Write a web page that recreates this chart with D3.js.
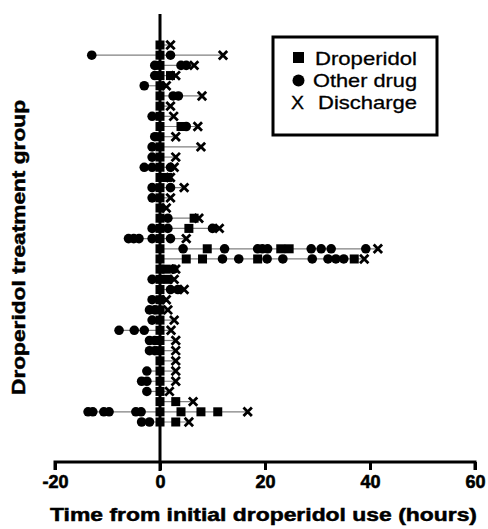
<!DOCTYPE html>
<html>
<head>
<meta charset="utf-8">
<script src="https://cdn.jsdelivr.net/npm/d3@7"></script>
<style>
  body { margin: 0; background: #fff; }
  text { font-family: Arial, "Liberation Sans", sans-serif; }
  .tick text { font-size: 18px; font-weight: bold; }
</style>
</head>
<body>
<script>
// one entry per patient row, top to bottom (hours from first droperidol dose)
var droperidolTimes = [
  [0], [0], [0], [0, 2], [0], [0], [0], [0], [0, 4], [0],
  [0], [0], [0], [0, 1.5], [0], [0], [0], [0, 6.5], [0, 5.5], [0],
  [0, 9, 23, 24.6], [0, 5, 8.1, 18.6, 37], [0, 1.2], [0, 1.5], [0], [0], [0], [0], [0], [0],
  [0], [0], [0], [0], [0], [0, 3], [0, 4, 7.8, 11], [0, 3]
];
var otherDrugTimes = [
  [], [-13, 2], [-1, 4, 5], [-1], [-3], [2.5, 3.5], [], [-1.5], [5], [-1],
  [-1.5], [-1.5], [-3, -1.5, 2], [], [-1.5, 2], [-1.5], [], [1.5], [-1.5, 1.5, 10], [-6, -5, -4, -1.5, 2],
  [4.4, 12.3, 18.6, 19.5, 20.5, 28.8, 30.7, 32.6, 39.2], [11.9, 15, 20.4, 23.4, 29, 32, 33.5, 35], [2.6], [-1.5], [2, 3.4], [-1.5], [-2, -1], [-1.5], [-7.8, -4.9, -3], [-2, -1],
  [-2, -1], [], [-2.5], [-3.5, -2.5], [-2.5], [], [-13.7, -12.8, -10.7, -9.7, -4.6, -3.6], [-3.5, -2]
];
var dischargeTimes = [
  2, 12, 6.5, 3, 1.2, 8, 2, 2.6, 7.2, 3,
  7.8, 3, 2.7, 2, 4.6, 2, 1.2, 7.4, 11.3, 5,
  41.5, 38.9, 3, 2.7, 4.6, 1.2, 1.5, 2.7, 2.1, 3,
  3, 3, 3, 3, 1.8, 6.3, 16.7, 5.5
];
var xTicks = [-20, 0, 20, 40, 60];
var legendLabels = ["Droperidol", "Other drug", "Discharge"];

var rows = dischargeTimes.map(function(d, i) {
  var all = droperidolTimes[i].concat(otherDrugTimes[i]).concat([d]);
  return { i: i, min: d3.min(all), max: d3.max(all) };
});

var svg = d3.select("body").append("svg")
  .attr("width", 488)
  .attr("height", 529);

var x = d3.scaleLinear().domain([-20, 60]).range([55, 475]);
var y = d3.scaleLinear().domain([0, rows.length - 1]).range([45, 422]);

// row lines
svg.selectAll("line.row")
  .data(rows)
  .enter()
  .append("line")
  .attr("class", "row")
  .attr("x1", function(d) { return x(d.min); })
  .attr("x2", function(d) { return x(d.max); })
  .attr("y1", function(d) { return y(d.i); })
  .attr("y2", function(d) { return y(d.i); })
  .attr("stroke", "#808080")
  .attr("stroke-width", 1.2);

// x axis
var xAxis = d3.axisBottom(x).tickValues(xTicks).tickSize(8).tickPadding(5)
  .tickFormat(function(d) { return String(d); });
var gx = svg.append("g")
  .attr("transform", "translate(0,462)")
  .call(xAxis)
  .attr("font-size", 18)
  .attr("font-weight", "bold")
  .attr("font-family", "Arial, 'Liberation Sans', sans-serif");
gx.select(".domain").attr("stroke", "#000").attr("stroke-width", 3)
  .attr("d", "M" + x(-20) + ",8V0H" + x(60) + "V8");
gx.selectAll(".tick line").attr("stroke-width", 3);
gx.selectAll(".tick text")
  .attr("fill", "#000")
  .attr("stroke", "#000")
  .attr("stroke-width", 0.6);

// vertical axis at zero
svg.append("line")
  .attr("x1", x(0)).attr("x2", x(0))
  .attr("y1", 14).attr("y2", 471)
  .attr("stroke", "#000")
  .attr("stroke-width", 3);

// markers
var pts = [];
rows.forEach(function(r) {
  otherDrugTimes[r.i].forEach(function(t) { pts.push({ t: t, i: r.i, k: "c" }); });
  droperidolTimes[r.i].forEach(function(t) { pts.push({ t: t, i: r.i, k: "s" }); });
});

svg.selectAll("circle.pt")
  .data(pts.filter(function(d) { return d.k == "c"; }))
  .enter()
  .append("circle")
  .attr("class", "pt")
  .attr("cx", function(d) { return x(d.t); })
  .attr("cy", function(d) { return y(d.i); })
  .attr("r", 4.8)
  .attr("fill", "#000");

svg.selectAll("rect.pt")
  .data(pts.filter(function(d) { return d.k == "s"; }))
  .enter()
  .append("rect")
  .attr("class", "pt")
  .attr("x", function(d) { return x(d.t) - 4.5; })
  .attr("y", function(d) { return y(d.i) - 4.5; })
  .attr("width", 9)
  .attr("height", 9)
  .attr("fill", "#000");

svg.selectAll("path.dis")
  .data(rows)
  .enter()
  .append("path")
  .attr("class", "dis")
  .attr("d", function(d) {
    var cx = x(dischargeTimes[d.i]), cy = y(d.i), s = 4.2;
    return "M" + (cx - s) + "," + (cy - s) + "L" + (cx + s) + "," + (cy + s) +
      "M" + (cx - s) + "," + (cy + s) + "L" + (cx + s) + "," + (cy - s);
  })
  .attr("stroke", "#000")
  .attr("stroke-width", 2.8)
  .attr("fill", "none");

// titles
svg.append("text")
  .attr("x", 50)
  .attr("y", 521)
  .attr("font-size", "19px")
  .attr("font-weight", "bold")
  .attr("stroke", "#000")
  .attr("stroke-width", 0.5)
  .attr("textLength", 427)
  .attr("lengthAdjust", "spacingAndGlyphs")
  .text("Time from initial droperidol use (hours)");

svg.append("text")
  .attr("transform", "translate(25,395) rotate(-90)")
  .attr("font-size", "19px")
  .attr("font-weight", "bold")
  .attr("stroke", "#000")
  .attr("stroke-width", 0.5)
  .attr("textLength", 295)
  .attr("lengthAdjust", "spacingAndGlyphs")
  .text("Droperidol treatment group");

// legend
var lg = svg.append("g");
lg.append("rect")
  .attr("x", 273).attr("y", 37)
  .attr("width", 164).attr("height", 98)
  .attr("fill", "#fff")
  .attr("stroke", "#000")
  .attr("stroke-width", 3);

var legendWidths = [102, 104, 99];
lg.selectAll("text.lab")
  .data(legendLabels)
  .enter()
  .append("text")
  .attr("class", "lab")
  .attr("x", function(d, i) { return 417 - legendWidths[i]; })
  .attr("y", function(d, i) { return 65 + i * 22; })
  .attr("font-size", "18.5px")
  .attr("stroke", "#000")
  .attr("stroke-width", 0.3)
  .attr("textLength", function(d, i) { return legendWidths[i]; })
  .attr("lengthAdjust", "spacingAndGlyphs")
  .text(function(d) { return d; });

lg.append("rect").attr("x", 293).attr("y", 52).attr("width", 11).attr("height", 11);
lg.append("circle").attr("cx", 298.5).attr("cy", 80.5).attr("r", 6);
lg.append("text").attr("x", 291).attr("y", 109).attr("font-size", "18.5px")
  .attr("stroke", "#000").attr("stroke-width", 0.3)
  .attr("textLength", 13).attr("lengthAdjust", "spacingAndGlyphs").text("X");
</script>
</body>
</html>
